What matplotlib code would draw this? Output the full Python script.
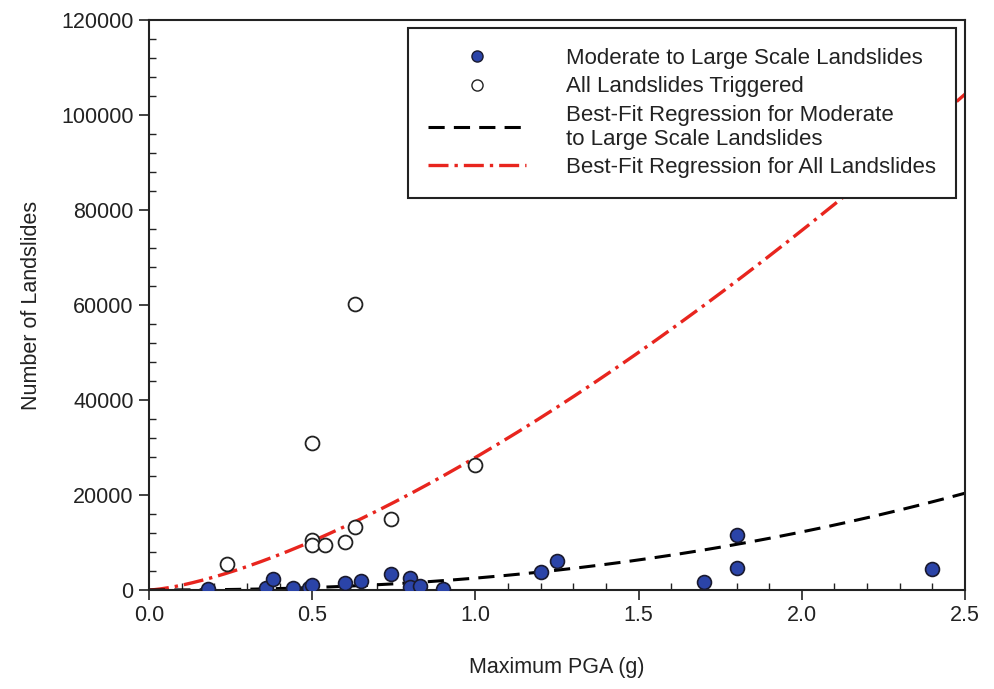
import matplotlib
matplotlib.use("Agg")
import matplotlib.pyplot as plt
from matplotlib.lines import Line2D
from matplotlib.ticker import MultipleLocator
import numpy as np

plt.rcParams["font.family"] = ["Liberation Sans", "DejaVu Sans"]

# ------------------------------------------------------------
# Data
# ------------------------------------------------------------
# moderate to large scale landslides (filled markers)
mod_pga = [0.18, 0.36, 0.38, 0.44, 0.49, 0.50, 0.60, 0.65, 0.74, 0.80, 0.80,
           0.83, 0.90, 1.20, 1.25, 1.70, 1.80, 1.80, 2.40]
mod_count = [200, 350, 2250, 350, 350, 1000, 1400, 1800, 3400, 2600, 700,
             900, 300, 3700, 6200, 1600, 11600, 4600, 4400]

# all landslides triggered (open markers)
all_pga = [0.24, 0.50, 0.50, 0.50, 0.54, 0.60, 0.63, 0.63, 0.74, 1.00]
all_count = [5500, 31000, 10500, 9500, 9500, 10200, 13300, 60200, 14900, 26300]

# best-fit power laws  y = a * x^b
fit_mod_a, fit_mod_b = 2500, 2.29
fit_all_a, fit_all_b = 27900, 1.44

label_mod = "Moderate to Large Scale Landslides"
label_all = "All Landslides Triggered"
label_fit_mod = "Best-Fit Regression for Moderate\nto Large Scale Landslides"
label_fit_all = "Best-Fit Regression for All Landslides"

BLUE = "#2b44a8"
RED = "#e8251e"
INK = "#222222"
RED_DASH = (6, 1.8, 1.0, 1.8)
BLK_DASH = (5.3, 3.0)

fig = plt.figure(figsize=(9.95, 6.89), dpi=100)
ax = fig.add_axes([0.1497, 0.1437, 0.8202, 0.8273])

x_fit = np.linspace(0, 2.5, 300)
ax.plot(x_fit, fit_all_a * x_fit ** fit_all_b, color=RED, lw=2.4,
        dashes=RED_DASH, zorder=2)
ax.plot(x_fit, fit_mod_a * x_fit ** fit_mod_b, color="black", lw=2.2,
        dashes=BLK_DASH, zorder=2)

ax.plot(all_pga, all_count, "o", ms=10, mfc="white", mec=INK, mew=1.3,
        zorder=3)
ax.plot(mod_pga, mod_count, "o", ms=10, mfc=BLUE, mec="#1a1a2e", mew=1.2,
        zorder=4)

ax.set_xlim(0, 2.5)
ax.set_ylim(0, 120000)
ax.xaxis.set_major_locator(MultipleLocator(0.5))
ax.xaxis.set_minor_locator(MultipleLocator(0.1))
ax.yaxis.set_major_locator(MultipleLocator(20000))
ax.yaxis.set_minor_locator(MultipleLocator(4000))
ax.xaxis.set_major_formatter(matplotlib.ticker.FormatStrFormatter("%.1f"))

ax.tick_params(which="major", direction="out", length=7, width=1.2,
               labelsize=15.5, colors=INK, pad=4)
ax.tick_params(which="minor", direction="in", length=5, width=1.0,
               colors=INK)
for sp in ax.spines.values():
    sp.set_linewidth(1.5)
    sp.set_color(INK)

ax.set_xlabel("Maximum PGA (g)", fontsize=15.5, labelpad=22, color=INK)
ax.set_ylabel("Number of Landslides", fontsize=15.5, labelpad=14, color=INK)

handles = [
    Line2D([], [], ls="none", marker="o", ms=8, mfc=BLUE, mec="#1a1a2e", mew=1.0),
    Line2D([], [], ls="none", marker="o", ms=8, mfc="white", mec=INK, mew=1.0),
    Line2D([], [], color="black", lw=2.2, dashes=BLK_DASH),
    Line2D([], [], color=RED, lw=2.4, dashes=RED_DASH),
]
labels = [label_mod, label_all, label_fit_mod, label_fit_all]
leg = ax.legend(handles, labels, loc="upper right",
                bbox_to_anchor=(0.989, 0.986), borderaxespad=0,
                fontsize=16, frameon=True, fancybox=False, edgecolor=INK,
                framealpha=1, handlelength=4.4, handletextpad=1.8,
                labelspacing=0.33, borderpad=0.9)
leg.get_frame().set_linewidth(1.5)
for t in leg.get_texts():
    t.set_color(INK)

fig.savefig("out.png", dpi=100)
